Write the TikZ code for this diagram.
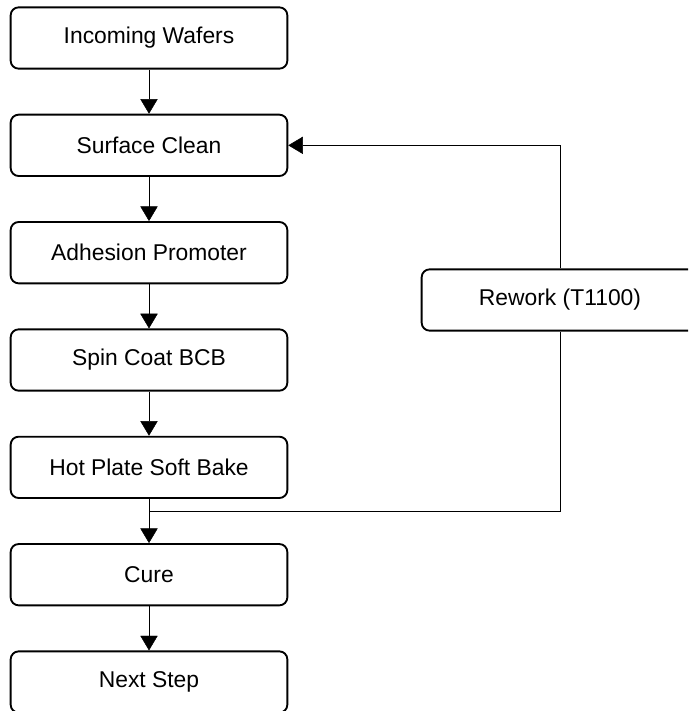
\documentclass[tikz,border=0pt]{standalone}
\usepackage{fontspec}
\setmainfont{Liberation Sans}
\usepackage{tikz}
\usetikzlibrary{arrows.meta, positioning}
\tikzset{->,>={Triangle[width=0.52cm,length=0.44cm]},
    node distance=3.22cm, line width=2pt,
    process/.style={rectangle,draw,rounded corners=0.24cm,line width=1.6pt,
        minimum width=8.3cm,minimum height=1.84cm,
        font=\fontsize{19.5}{23}\selectfont},
    link/.style={-}}

\begin{document}
\begin{tikzpicture}[x=0.03cm,y=-0.03cm]
\useasboundingbox (0,0) rectangle (688,711);
\clip (0,0) rectangle (688,711);
\node[process] (a)  at (149,38)   {Incoming Wafers};
\node[process] (b)  [below of = a] {Surface Clean};
\node[process] (c)  [below of = b] {Adhesion Promoter};
\node[process] (d)  [below of = c] {Spin Coat BCB};
\node[process] (e)  [below of = d] {Hot Plate Soft Bake};
\node[process] (f)  [below of = e] {Cure};
\node[process] (g)  [below of = f] {Next Step};
\node[process] (r)  at (560,300)   {Rework (T1100)};
\coordinate[below of = e, node distance=1.31cm] (j);
\path
	(a)	edge (b)
	(b)	edge (c)
	(c)	edge (d)
	(d)	edge (e)
	(e)	edge (f)
	(f)	edge (g);
% rework loop
\draw[link] (j) -| (r.south);
\draw (r.north) |- (b.east);
\end{tikzpicture}
\end{document}
